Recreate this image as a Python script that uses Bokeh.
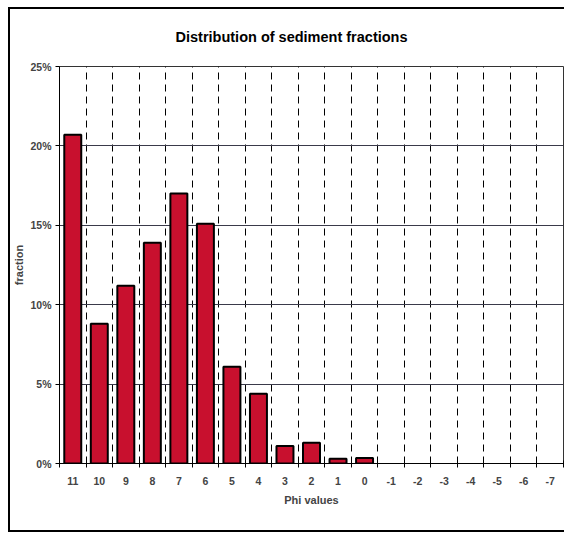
import numpy as np
from bokeh.plotting import figure
from bokeh.models import (Range1d, FixedTicker, NumeralTickFormatter,
                          ColumnDataSource, CDSView, BooleanFilter)
from bokeh.embed import file_html
from bokeh.resources import INLINE

phi_labels = ["11", "10", "9", "8", "7", "6", "5", "4", "3", "2", "1", "0",
              "-1", "-2", "-3", "-4", "-5", "-6", "-7"]
fractions = [0.207, 0.088, 0.112, 0.139, 0.170, 0.151, 0.061, 0.044, 0.011,
             0.013, 0.003, 0.0035, 0, 0, 0, 0, 0, 0, 0]
y_ticks = [0.0, 0.05, 0.10, 0.15, 0.20, 0.25]
title_text = "Distribution of sediment fractions"

n = len(phi_labels)
centers = [i + 0.5 for i in range(n)]
bounds = list(range(n + 1))

src = ColumnDataSource(dict(x=centers, top=fractions, label=phi_labels))
view = CDSView(filter=BooleanFilter([v > 0 for v in fractions]))

FONT = "Liberation Sans"

p = figure(width=556, height=525, x_range=Range1d(0, n), y_range=Range1d(0, 0.25),
           output_backend="svg", toolbar_location=None,
           min_border_left=45, min_border_right=3, min_border_top=55, min_border_bottom=71,
           title=title_text)
p.styles = {"border-left": "2px solid black", "border-top": "2px solid black",
            "border-bottom": "2px solid black", "margin-left": "8px", "margin-top": "7px"}
p.background_fill_color = "white"
p.border_fill_color = "white"
p.outline_line_color = "#333333"
p.outline_line_width = 1

p.title.text_font = FONT
p.title.text_font_size = "14.5px"
p.title.text_font_style = "bold"
p.title.align = "left"
p.title.offset = 116
p.title.vertical_align = "top"
p.title.standoff = 39
p.title.text_color = "black"

p.vbar(x="x", top="top", width=0.64, source=src, view=view,
       fill_color="#c8102e", line_color="black", line_width=2)

# x axis
xa = p.xaxis[0]
xa.ticker = FixedTicker(ticks=centers, minor_ticks=bounds)
xa.major_label_overrides = {c: l for c, l in zip(centers, phi_labels)}
xa.major_tick_line_color = None
xa.minor_tick_line_color = "black"
xa.minor_tick_in = 3
xa.minor_tick_out = 4
xa.axis_line_color = "black"
xa.axis_label = "Phi values"
xa.axis_label_text_font = FONT
xa.axis_label_text_font_size = "11px"
xa.axis_label_text_font_style = "bold"
xa.axis_label_standoff = 6
xa.major_label_text_font = FONT
xa.major_label_text_font_size = "10.5px"
xa.major_label_text_font_style = "bold"
xa.major_label_standoff = 7

# y axis
ya = p.yaxis[0]
ya.ticker = FixedTicker(ticks=y_ticks)
ya.formatter = NumeralTickFormatter(format="0%")
ya.minor_tick_line_color = None
ya.major_tick_in = 0
ya.major_tick_out = 4
ya.major_tick_line_color = "black"
ya.axis_line_color = "black"
ya.axis_label = "fraction"
ya.axis_label_text_font = FONT
ya.axis_label_text_font_size = "11px"
ya.axis_label_text_font_style = "bold"
ya.axis_label_standoff = 2
ya.major_label_text_font = FONT
ya.major_label_text_font_size = "10.5px"
ya.major_label_text_font_style = "bold"
ya.major_label_standoff = 4

# grids
p.xgrid.ticker = FixedTicker(ticks=bounds[1:-1])
p.xgrid.grid_line_color = "black"
p.xgrid.grid_line_dash = "7 5"
p.xgrid.grid_line_width = 1
p.ygrid.grid_line_color = "#3a3a4a"
p.ygrid.grid_line_width = 1
p.ygrid.grid_line_dash = "solid"

open("out.html", "w").write(file_html(p, INLINE))
